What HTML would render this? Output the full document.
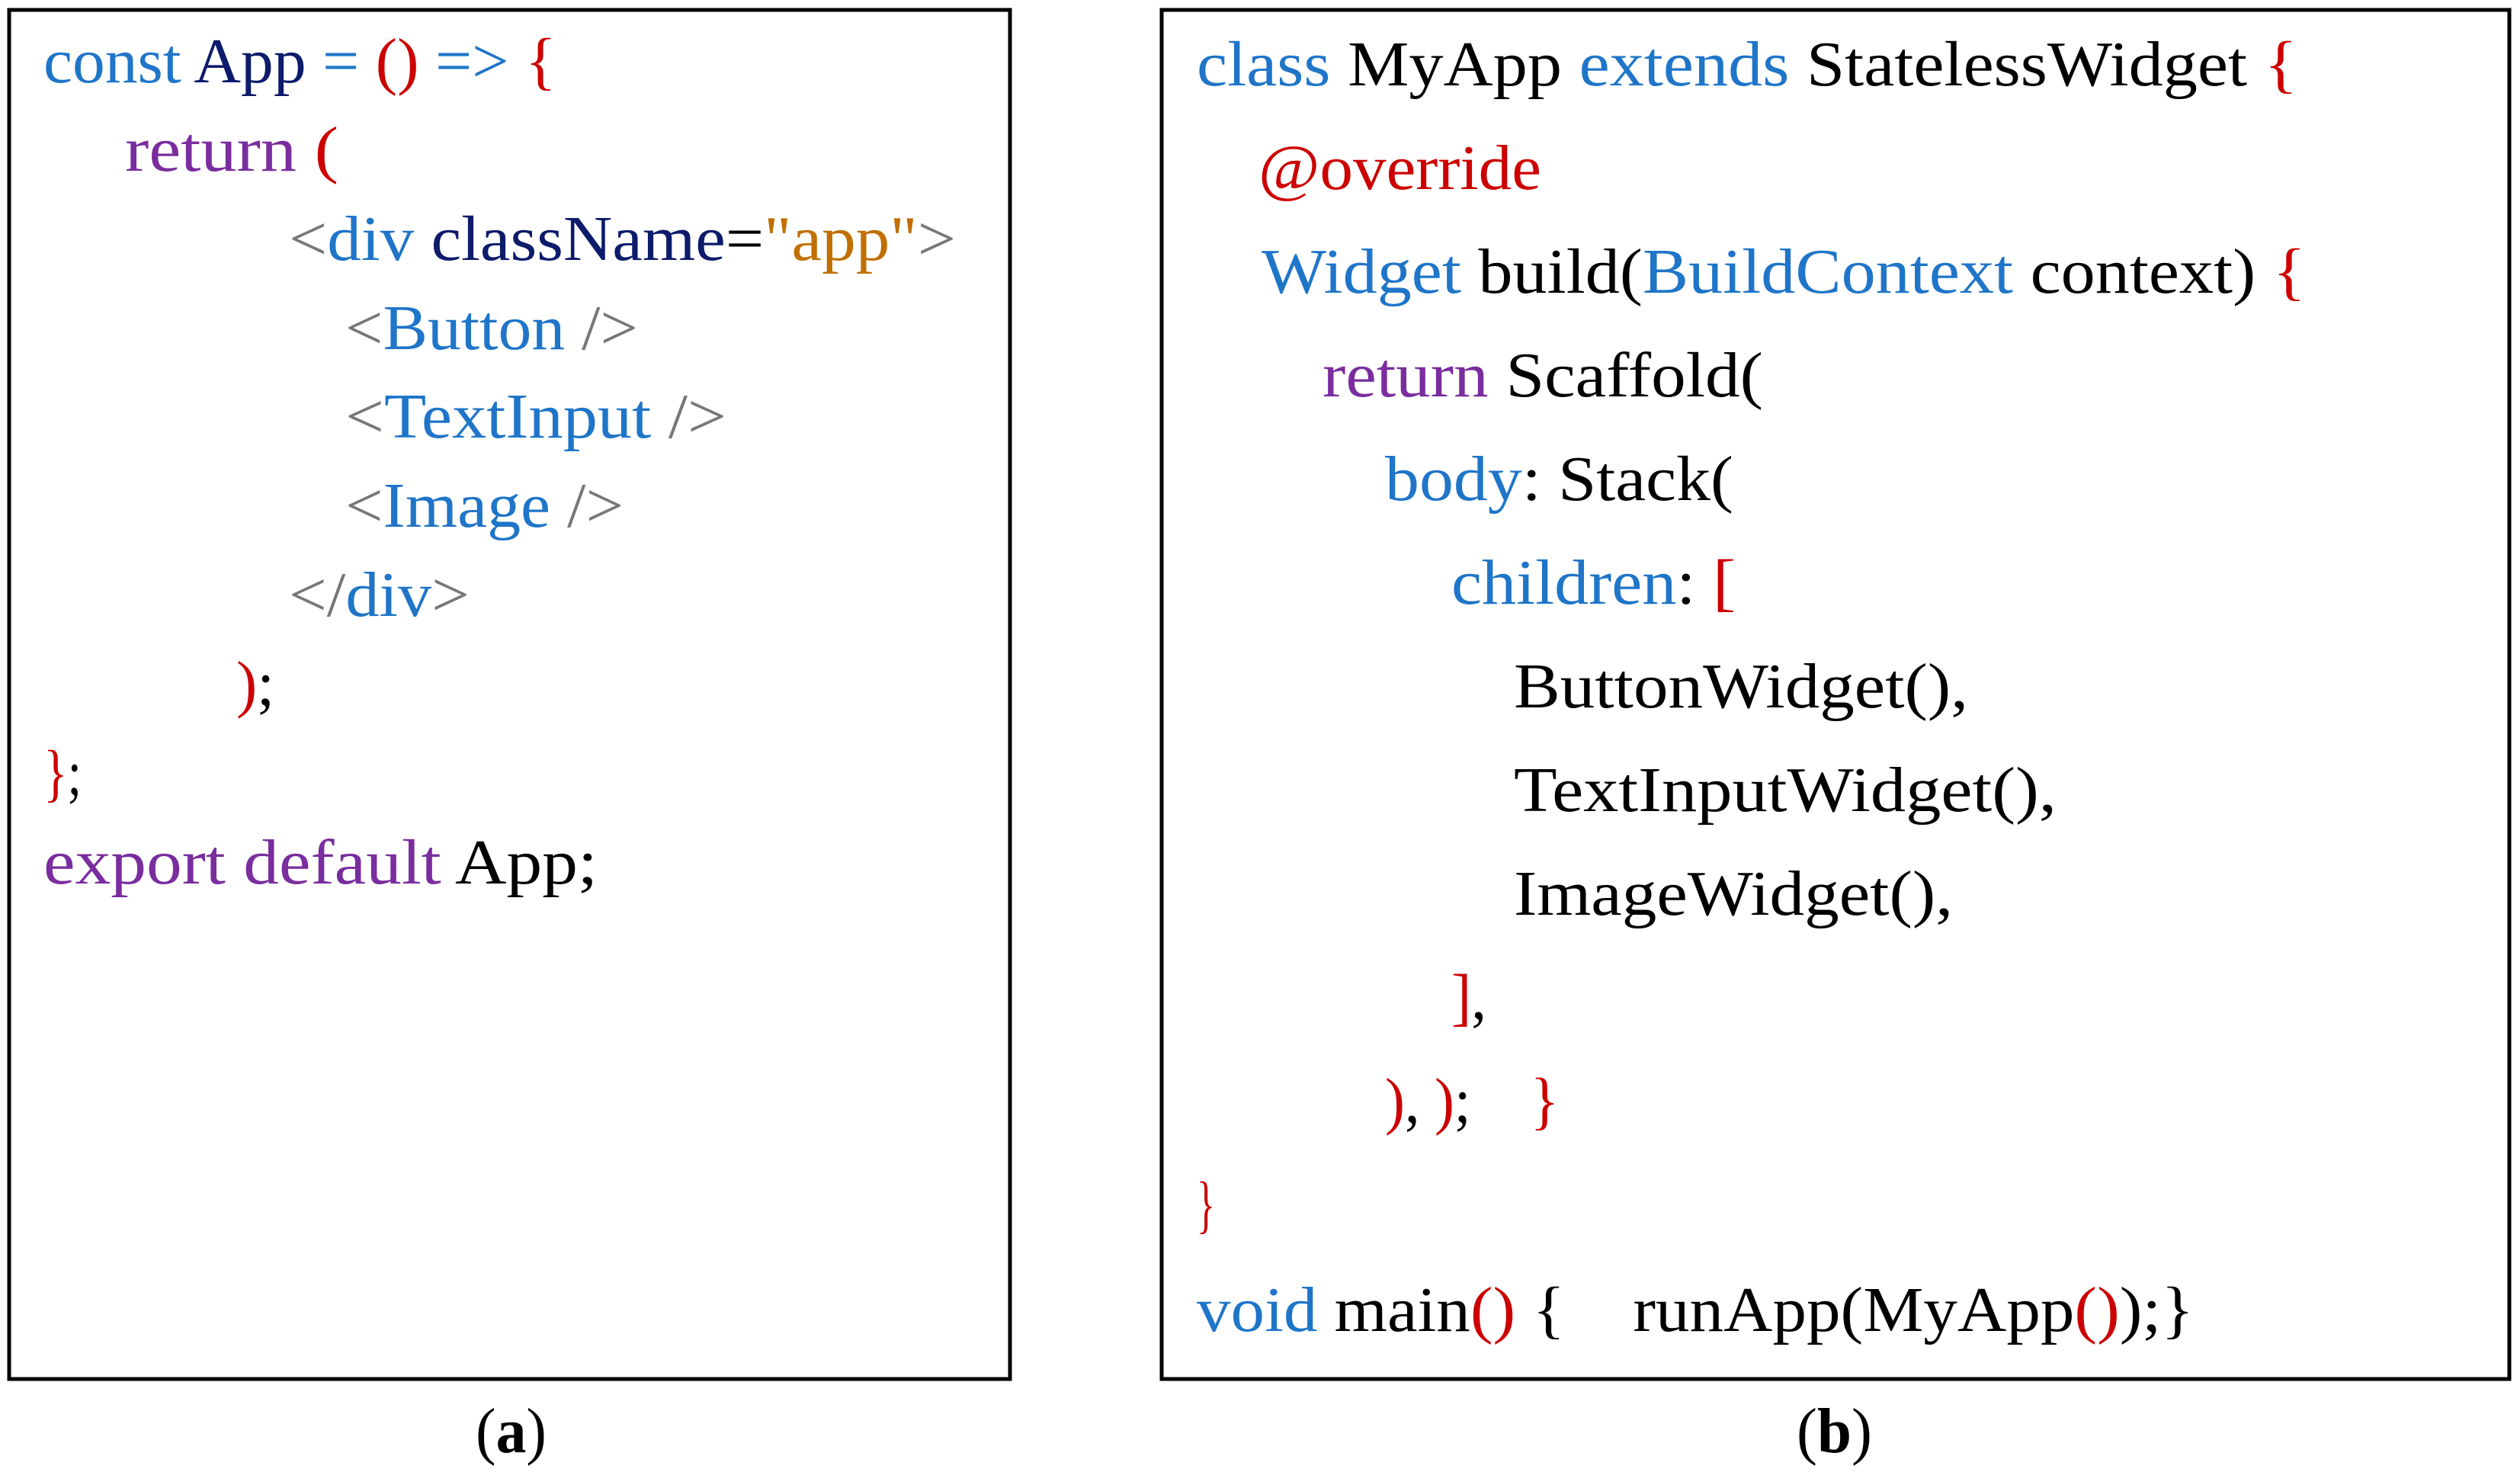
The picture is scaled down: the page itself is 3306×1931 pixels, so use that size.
<!DOCTYPE html>
<html><head><meta charset="utf-8"><style>
html,body{margin:0;padding:0;background:#fff;}
svg{display:block;}
text{font-family:"Liberation Serif",serif;font-size:84px;white-space:pre;}
.b{fill:#1f75c8}.n{fill:#0d1b6b}.r{fill:#cc0000}.p{fill:#7a2d9e}.g{fill:#777}.o{fill:#c06f00}.k{fill:#000}
</style></head><body>
<svg width="3306" height="1931" viewBox="0 0 3306 1931" xmlns="http://www.w3.org/2000/svg" xml:space="preserve">
<rect x="12" y="13" width="1313" height="1796" fill="none" stroke="#000" stroke-width="5"/>
<rect x="1524" y="13" width="1768" height="1796" fill="none" stroke="#000" stroke-width="5"/>

<text x="57" y="108" textLength="673" lengthAdjust="spacingAndGlyphs"><tspan class="b">const </tspan><tspan class="n">App </tspan><tspan class="b">= </tspan><tspan class="r">() </tspan><tspan class="b">=&gt; </tspan><tspan class="r">{</tspan></text>
<text x="164" y="224" textLength="280" lengthAdjust="spacingAndGlyphs"><tspan class="p">return </tspan><tspan class="r">(</tspan></text>
<text x="379" y="341" textLength="875" lengthAdjust="spacingAndGlyphs"><tspan class="g">&lt;</tspan><tspan class="b">div </tspan><tspan class="n">className</tspan><tspan class="k">=</tspan><tspan class="o">"app"</tspan><tspan class="g">&gt;</tspan></text>
<text x="453" y="458" textLength="384" lengthAdjust="spacingAndGlyphs"><tspan class="g">&lt;</tspan><tspan class="b">Button </tspan><tspan class="g">/&gt;</tspan></text>
<text x="453" y="574" textLength="500" lengthAdjust="spacingAndGlyphs"><tspan class="g">&lt;</tspan><tspan class="b">TextInput </tspan><tspan class="g">/&gt;</tspan></text>
<text x="453" y="691" textLength="365" lengthAdjust="spacingAndGlyphs"><tspan class="g">&lt;</tspan><tspan class="b">Image </tspan><tspan class="g">/&gt;</tspan></text>
<text x="379" y="808" textLength="237" lengthAdjust="spacingAndGlyphs"><tspan class="g">&lt;/</tspan><tspan class="b">div</tspan><tspan class="g">&gt;</tspan></text>
<text x="310" y="925" textLength="50" lengthAdjust="spacingAndGlyphs"><tspan class="r">)</tspan><tspan class="k">;</tspan></text>
<text x="57" y="1042" textLength="50" lengthAdjust="spacingAndGlyphs"><tspan class="r">}</tspan><tspan class="k">;</tspan></text>
<text x="57" y="1159" textLength="727" lengthAdjust="spacingAndGlyphs"><tspan class="p">export default </tspan><tspan class="k">App;</tspan></text>

<text x="1570" y="112" textLength="1444" lengthAdjust="spacingAndGlyphs"><tspan class="b">class </tspan><tspan class="k">MyApp </tspan><tspan class="b">extends </tspan><tspan class="k">StatelessWidget </tspan><tspan class="r">{</tspan></text>
<text x="1651" y="248" textLength="371" lengthAdjust="spacingAndGlyphs"><tspan class="r">@override</tspan></text>
<text x="1655" y="384" textLength="1370" lengthAdjust="spacingAndGlyphs"><tspan class="b">Widget </tspan><tspan class="k">build(</tspan><tspan class="b">BuildContext </tspan><tspan class="k">context) </tspan><tspan class="r">{</tspan></text>
<text x="1735" y="520" textLength="578" lengthAdjust="spacingAndGlyphs"><tspan class="p">return </tspan><tspan class="k">Scaffold(</tspan></text>
<text x="1817" y="656" textLength="457" lengthAdjust="spacingAndGlyphs"><tspan class="b">body</tspan><tspan class="k">: Stack(</tspan></text>
<text x="1904" y="792" textLength="373" lengthAdjust="spacingAndGlyphs"><tspan class="b">children</tspan><tspan class="k">: </tspan><tspan class="r">[</tspan></text>
<text x="1986" y="928" textLength="596" lengthAdjust="spacingAndGlyphs"><tspan class="k">ButtonWidget(),</tspan></text>
<text x="1986" y="1064" textLength="712" lengthAdjust="spacingAndGlyphs"><tspan class="k">TextInputWidget(),</tspan></text>
<text x="1986" y="1200" textLength="576" lengthAdjust="spacingAndGlyphs"><tspan class="k">ImageWidget(),</tspan></text>
<text x="1904" y="1336" textLength="46" lengthAdjust="spacingAndGlyphs"><tspan class="r">]</tspan><tspan class="k">,</tspan></text>
<text x="1817" y="1472" textLength="228" lengthAdjust="spacingAndGlyphs"><tspan class="r">)</tspan><tspan class="k">, </tspan><tspan class="r">)</tspan><tspan class="k">;    </tspan><tspan class="r">}</tspan></text>
<text x="1570" y="1608" textLength="24" lengthAdjust="spacingAndGlyphs"><tspan class="r">}</tspan></text>
<text x="1570" y="1746" textLength="1308" lengthAdjust="spacingAndGlyphs"><tspan class="b">void </tspan><tspan class="k">main</tspan><tspan class="r">()</tspan><tspan class="k"> {    runApp(MyApp</tspan><tspan class="r">()</tspan><tspan class="k">);}</tspan></text>

<text x="624" y="1905" textLength="93" lengthAdjust="spacingAndGlyphs" class="k">(<tspan font-weight="bold">a</tspan>)</text>
<text x="2357" y="1905" textLength="99" lengthAdjust="spacingAndGlyphs" class="k">(<tspan font-weight="bold">b</tspan>)</text>
</svg>
</body></html>
